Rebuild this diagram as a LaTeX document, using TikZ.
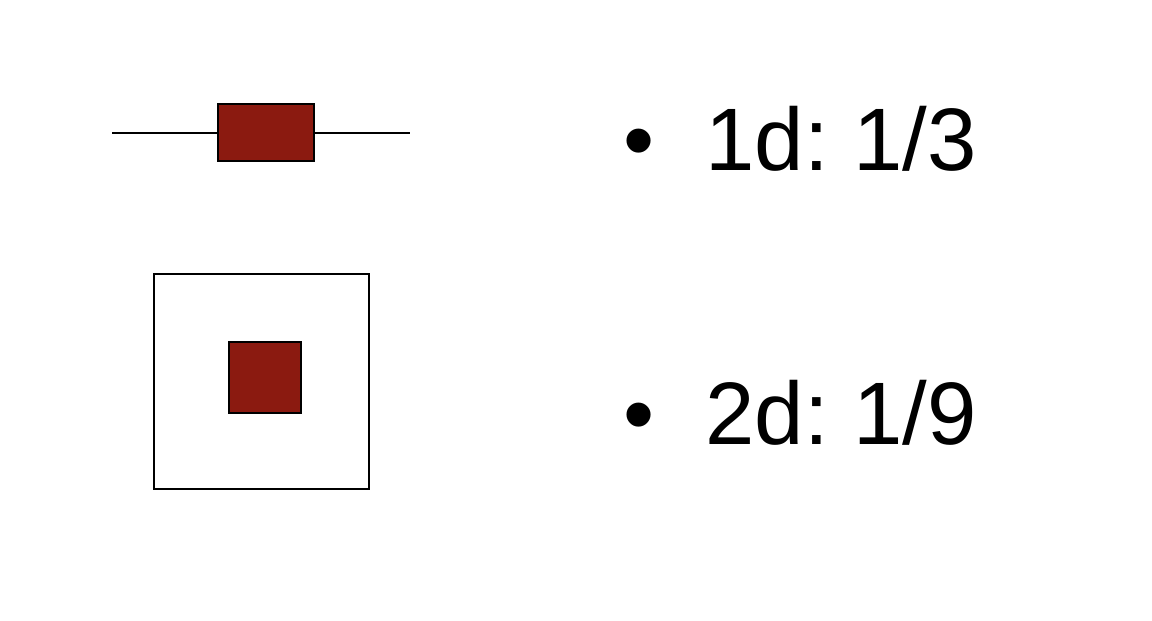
\documentclass[tikz,border=0pt]{standalone}
\usepackage{fontspec}
\setmainfont{Liberation Sans}
\definecolor{brick}{HTML}{8B1A10}
\begin{document}
\begin{tikzpicture}[x=0.02cm,y=-0.02cm,
  outline/.style={draw=black,line width=0.8pt},
  redbox/.style={outline,fill=brick},
  label/.style={font=\fontsize{50.5pt}{60pt}\selectfont\frenchspacing,inner sep=0pt,anchor=base west}]
\useasboundingbox (0,0) rectangle (1152,620);
% 1d
\coordinate (l1) at (112,133);
\coordinate (l2) at (410,133);
\draw[outline] (l1) -- (l2);
\path[redbox] (218,104) rectangle (314,161);
% 2d
\path[outline,fill=white] (154,274) rectangle (369,489);
\path[redbox] (229,342) rectangle (301,413);
% texts
\node[label] (b1) at (623,170) {•};
\node[label] (t1) at (705,170) {1d: 1/3};
\node[label] (b2) at (623,444) {•};
\node[label] (t2) at (705,444) {2d: 1/9};
\end{tikzpicture}
\end{document}
